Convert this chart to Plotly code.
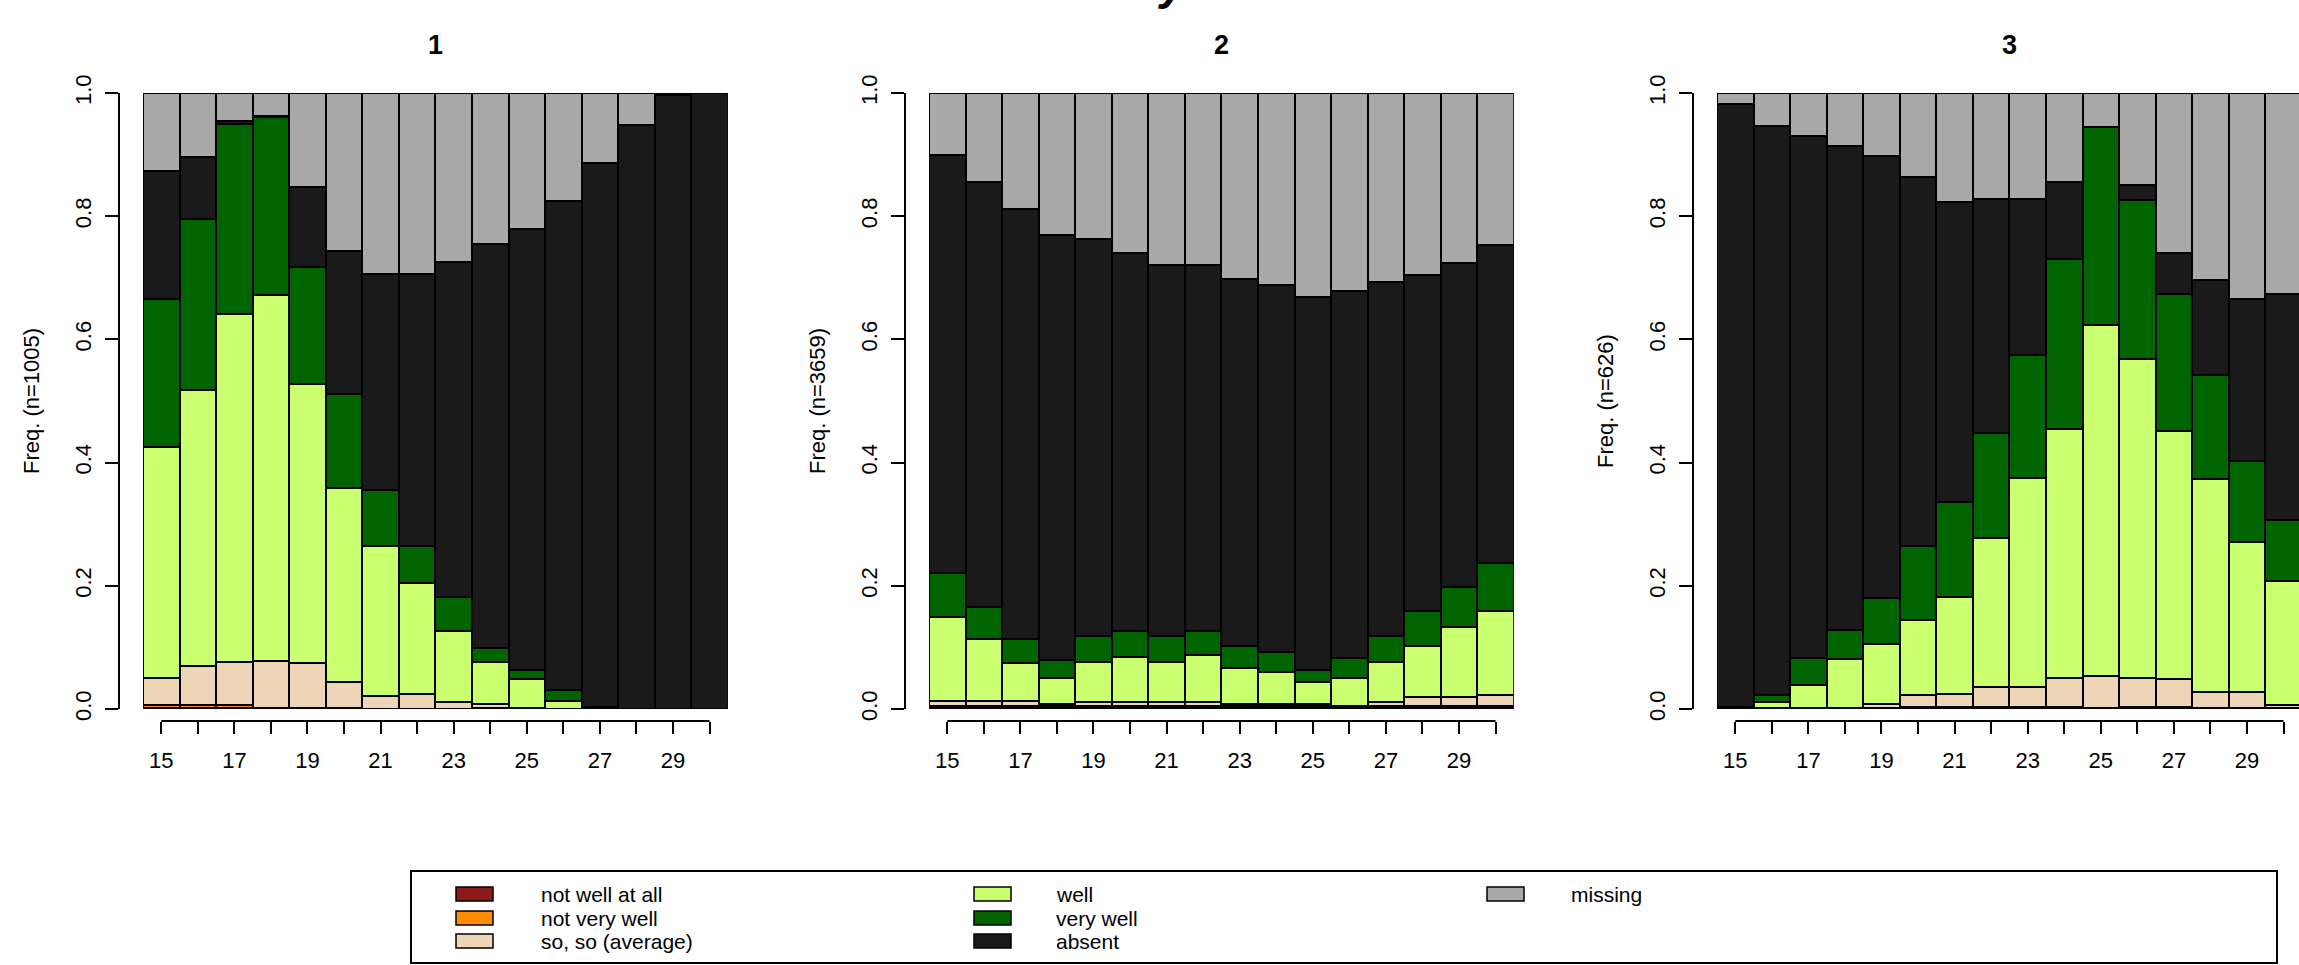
import plotly.graph_objects as go

# ---------------- data ----------------
ages = [15, 16, 17, 18, 19, 20, 21, 22, 23, 24, 25, 26, 27, 28, 29, 30]
age_tick_text = ["15", "", "17", "", "19", "", "21", "", "23", "", "25", "", "27", "", "29", ""]
y_tick_vals = [0.0, 0.2, 0.4, 0.6, 0.8, 1.0]
y_tick_text = ["0.0", "0.2", "0.4", "0.6", "0.8", "1.0"]
panel_titles = ["1", "2", "3"]
panel_n = [1005, 3659, 626]
main_title = "y"

categories = ["not well at all", "not very well", "so, so (average)", "well", "very well", "absent", "missing"]
colors = ["#8B1A1A", "#FF8C00", "#EED5B7", "#CAFF70", "#006400", "#1A1A1A", "#A9A9A9"]

# panel 1 (n=1005)
g1_not_well_at_all = [0.002, 0.002, 0.002, 0.002, 0.002, 0.002, 0, 0, 0, 0.002, 0, 0, 0, 0, 0, 0]
g1_not_very_well = [0.004, 0.004, 0.004, 0, 0, 0, 0, 0, 0, 0, 0, 0, 0, 0, 0, 0]
g1_so_so = [0.045, 0.064, 0.071, 0.076, 0.072, 0.042, 0.021, 0.024, 0.011, 0.006, 0.001, 0, 0, 0, 0, 0]
g1_well = [0.374, 0.448, 0.565, 0.594, 0.453, 0.315, 0.244, 0.180, 0.115, 0.069, 0.047, 0.013, 0, 0, 0, 0]
g1_very_well = [0.240, 0.278, 0.308, 0.289, 0.191, 0.153, 0.091, 0.060, 0.056, 0.022, 0.015, 0.018, 0.003, 0, 0, 0]
g1_absent = [0.209, 0.100, 0.005, 0.001, 0.129, 0.231, 0.350, 0.442, 0.544, 0.656, 0.717, 0.793, 0.883, 0.948, 0.997, 1.0]
g1_missing = [0.126, 0.104, 0.045, 0.038, 0.153, 0.257, 0.294, 0.294, 0.274, 0.245, 0.220, 0.176, 0.114, 0.052, 0.003, 0]

# panel 2 (n=3659)
g2_not_well_at_all = [0.003, 0.003, 0.003, 0.003, 0.003, 0.003, 0.003, 0.003, 0.003, 0.003, 0.003, 0.003, 0.003, 0.003, 0.003, 0.003]
g2_not_very_well = [0.002, 0.002, 0.002, 0.002, 0.002, 0.002, 0.002, 0.002, 0.002, 0.002, 0.002, 0.001, 0.002, 0.002, 0.002, 0.002]
g2_so_so = [0.008, 0.008, 0.008, 0.003, 0.006, 0.006, 0.006, 0.006, 0.003, 0.003, 0.003, 0.001, 0.006, 0.014, 0.014, 0.017]
g2_well = [0.136, 0.100, 0.061, 0.043, 0.066, 0.073, 0.066, 0.076, 0.059, 0.052, 0.036, 0.046, 0.066, 0.084, 0.114, 0.137]
g2_very_well = [0.072, 0.052, 0.039, 0.028, 0.042, 0.042, 0.042, 0.039, 0.035, 0.033, 0.019, 0.031, 0.042, 0.056, 0.065, 0.078]
g2_absent = [0.679, 0.690, 0.699, 0.691, 0.644, 0.615, 0.602, 0.595, 0.596, 0.595, 0.606, 0.596, 0.575, 0.545, 0.526, 0.516]
g2_missing = [0.100, 0.145, 0.188, 0.230, 0.237, 0.259, 0.279, 0.279, 0.302, 0.312, 0.331, 0.322, 0.306, 0.296, 0.276, 0.247]

# panel 3 (n=626)
g3_not_well_at_all = [0.003, 0.001, 0.001, 0.001, 0.001, 0.003, 0.003, 0.003, 0.003, 0.003, 0.002, 0.003, 0.003, 0.001, 0.001, 0.001]
g3_not_very_well = [0, 0, 0, 0, 0, 0, 0, 0, 0, 0, 0, 0, 0, 0, 0, 0]
g3_so_so = [0, 0.001, 0.001, 0.001, 0.007, 0.019, 0.022, 0.032, 0.032, 0.048, 0.052, 0.048, 0.045, 0.026, 0.026, 0.006]
g3_well = [0, 0.009, 0.037, 0.079, 0.098, 0.123, 0.157, 0.243, 0.340, 0.404, 0.570, 0.517, 0.403, 0.346, 0.244, 0.201]
g3_very_well = [0, 0.012, 0.043, 0.048, 0.075, 0.119, 0.154, 0.170, 0.200, 0.276, 0.321, 0.259, 0.222, 0.169, 0.131, 0.099]
g3_absent = [0.979, 0.924, 0.848, 0.785, 0.717, 0.600, 0.487, 0.380, 0.253, 0.124, 0, 0.024, 0.068, 0.155, 0.263, 0.367]
g3_missing = [0.018, 0.053, 0.070, 0.086, 0.102, 0.136, 0.177, 0.172, 0.172, 0.145, 0.055, 0.149, 0.259, 0.303, 0.335, 0.326]

panels = [
    [g1_not_well_at_all, g1_not_very_well, g1_so_so, g1_well, g1_very_well, g1_absent, g1_missing],
    [g2_not_well_at_all, g2_not_very_well, g2_so_so, g2_well, g2_very_well, g2_absent, g2_missing],
    [g3_not_well_at_all, g3_not_very_well, g3_so_so, g3_well, g3_very_well, g3_absent, g3_missing],
]

# ---------------- layout constants (pixels) ----------------
W, H = 2299, 965
FONT = "Liberation Sans, Arial, sans-serif"
panel_left = [143, 929, 1717]
bar_px = 36.55
plot_top, plot_bottom = 93, 709
xaxis_line_px = 721
yaxis_offset = 24
ytitle_offset = 87
subtitle_y = 45


def px_x(p):
    return p / W


def px_y(p):
    return 1 - p / H


fig = go.Figure()
layout = dict(
    template="none",
    width=W, height=H, autosize=False,
    margin=dict(l=0, r=0, t=0, b=0, pad=0, autoexpand=False),
    paper_bgcolor="white", plot_bgcolor="white",
    barmode="stack", bargap=0,
    showlegend=False,
    font=dict(family=FONT, color="black"),
)
shapes = []
annotations = []

for i, series in enumerate(panels):
    sfx = "" if i == 0 else str(i + 1)
    for name, vals, col in zip(categories, series, colors):
        fig.add_trace(go.Bar(
            x=ages, y=vals, name=name, width=1,
            marker=dict(color=col, line=dict(color="black", width=2)),
            xaxis="x" + sfx, yaxis="y" + sfx, showlegend=False,
            hovertemplate=name + ": %{y:.3f}<extra></extra>",
        ))
    x0 = panel_left[i]
    x1 = min(x0 + len(ages) * bar_px, W)
    rng_end = ages[0] - 0.5 + (x1 - x0) / bar_px
    layout["xaxis" + sfx] = dict(
        domain=[px_x(x0), px_x(x1)], range=[ages[0] - 0.5, rng_end],
        anchor="free", position=px_y(xaxis_line_px), automargin=False,
        showline=False, showgrid=False, zeroline=False,
        ticks="outside", ticklen=12, tickwidth=2, tickcolor="black",
        tickmode="array", tickvals=ages, ticktext=age_tick_text,
        tickfont=dict(size=22, family=FONT, color="black"),
        ticklabelstandoff=8,
    )
    layout["yaxis" + sfx] = dict(
        domain=[px_y(plot_bottom), px_y(plot_top)], range=[0, 1],
        anchor="free", position=px_x(x0 - yaxis_offset), automargin=False,
        showline=True, linecolor="black", linewidth=2,
        showgrid=False, zeroline=False,
        ticks="outside", ticklen=13, tickwidth=2, tickcolor="black",
        tickmode="array", tickvals=y_tick_vals, ticktext=y_tick_text,
        tickangle=-90, tickfont=dict(size=22, family=FONT, color="black"),
        ticklabelstandoff=5,
    )
    # R-style x axis line spanning first to last tick
    shapes.append(dict(type="line", xref="x" + sfx, yref="paper",
                       x0=ages[0], x1=ages[-1], y0=px_y(xaxis_line_px), y1=px_y(xaxis_line_px),
                       line=dict(color="black", width=2)))
    # panel title
    annotations.append(dict(text=panel_titles[i], x=px_x(x0 + len(ages) * bar_px / 2), y=px_y(subtitle_y),
                            xref="paper", yref="paper", showarrow=False, xanchor="center", yanchor="middle",
                            font=dict(size=27, family=FONT, color="black", weight="bold")))
    # y axis title
    annotations.append(dict(text=f"Freq. (n={panel_n[i]})", x=px_x(x0 - yaxis_offset - ytitle_offset),
                            y=px_y((plot_top + plot_bottom) / 2), xref="paper", yref="paper",
                            showarrow=False, textangle=-90, xanchor="center", yanchor="middle",
                            font=dict(size=22, family=FONT, color="black")))

# main title (cut off at the top of the image, only its descender shows)
annotations.append(dict(text="<b><i>" + main_title + "</i></b>", x=px_x(1173), y=px_y(11),
                        xref="paper", yref="paper", showarrow=False, xanchor="center", yanchor="bottom",
                        font=dict(size=46, family=FONT, color="black")))

# ---------------- legend (R-style box, 3 columns) ----------------
leg_box = (411, 871, 2277, 963)
shapes.append(dict(type="rect", xref="paper", yref="paper",
                   x0=px_x(leg_box[0]), x1=px_x(leg_box[2]), y0=px_y(leg_box[3]), y1=px_y(leg_box[1]),
                   line=dict(color="black", width=2), fillcolor="rgba(0,0,0,0)"))
col_swatch_x = [456, 974, 1487]
col_text_x = [539, 1054, 1569]
row_y = [894, 918, 941]
sw_w, sw_h = 37, 14
for k, (name, col) in enumerate(zip(categories, colors)):
    c, r = divmod(k, 3)
    sx, sy = col_swatch_x[c], row_y[r]
    shapes.append(dict(type="rect", xref="paper", yref="paper",
                       x0=px_x(sx), x1=px_x(sx + sw_w), y0=px_y(sy + sw_h / 2), y1=px_y(sy - sw_h / 2),
                       line=dict(color="black", width=1.5), fillcolor=col))
    annotations.append(dict(text=name, x=px_x(col_text_x[c]), y=px_y(sy), xref="paper", yref="paper",
                            showarrow=False, xanchor="left", yanchor="middle",
                            font=dict(size=21, family=FONT, color="black")))

layout["shapes"] = shapes
layout["annotations"] = annotations
fig.update_layout(**layout)

fig.write_html("out.html", config={"displayModeBar": False},
               post_script="document.body.style.margin='0';document.body.style.overflow='hidden';")
